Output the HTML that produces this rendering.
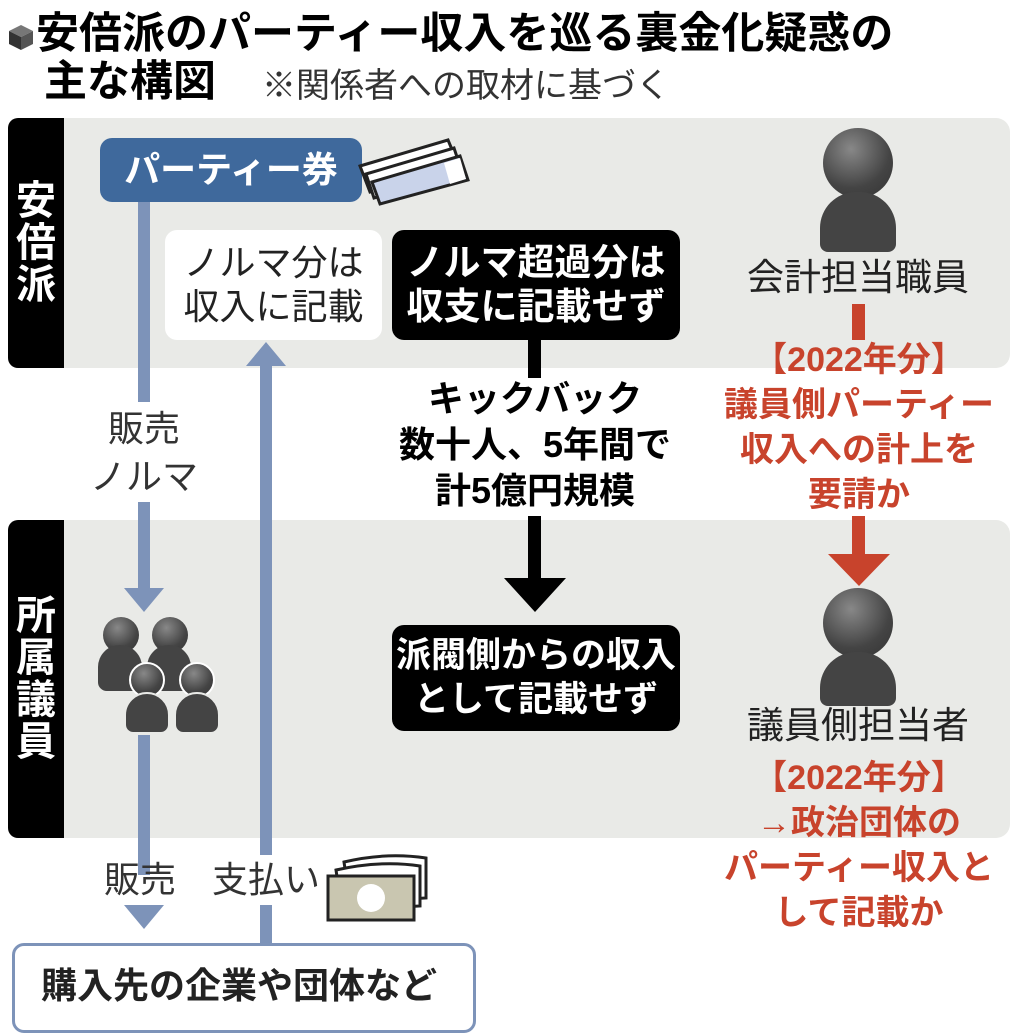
<!DOCTYPE html>
<html><head><meta charset="utf-8"><style>
body{margin:0;width:1018px;height:1024px;background:#fff;position:relative;overflow:hidden;font-family:"Liberation Sans","Noto Sans CJK JP",sans-serif;}
div{position:absolute;box-sizing:border-box;}
.panel{background:#e9eae7;border-radius:14px;}
.side{background:#000;color:#fff;font-weight:bold;font-size:40px;width:56px;border-radius:10px 0 0 10px;display:flex;flex-direction:column;align-items:center;justify-content:center;line-height:1.05;}
.t{white-space:nowrap;text-align:center;}
.blue{background:#7d93b9;}
.head{border-radius:50%;background:radial-gradient(circle at 40% 30%,#888,#444 60%,#333);}
.body{background:#444;border-radius:30px 30px 12px 12px;}
.red{color:#c8432c;font-weight:bold;}
</style></head><body>
<div style="left:6px;top:22px;width:30px;height:30px;"><svg width="30" height="30"><polygon points="15,3 27,9 15,15 3,9" fill="#777"/><polygon points="3,9 15,15 15,28 3,22" fill="#333"/><polygon points="27,9 15,15 15,28 27,22" fill="#555"/></svg></div>
<div class="t" style="left:36px;top:10px;font-size:43px;font-weight:bold;line-height:48px;text-align:left;">安倍派のパーティー収入を巡る裏金化疑惑の</div>
<div class="t" style="left:44px;top:58px;font-size:43px;font-weight:bold;line-height:48px;text-align:left;">主な構図</div>
<div class="t" style="left:262px;top:66px;font-size:34px;line-height:40px;color:#333;text-align:left;">※関係者への取材に基づく</div>

<div class="panel" style="left:8px;top:118px;width:1002px;height:250px;"></div>
<div class="side" style="left:8px;top:118px;height:250px;">安<br>倍<br>派</div>
<div class="panel" style="left:8px;top:520px;width:1002px;height:318px;"></div>
<div class="side" style="left:8px;top:520px;height:318px;">所<br>属<br>議<br>員</div>

<div style="left:100px;top:138px;width:262px;height:64px;background:#3f699c;border-radius:12px;color:#fff;font-weight:bold;font-size:36px;line-height:64px;text-align:center;">パーティー券</div>
<div style="left:356px;top:136px;width:115px;height:70px;"><svg width="115" height="70"><g stroke="#222" stroke-width="3" fill="#fff"><polygon points="4,30 92,4 102,28 14,56"/><polygon points="10,38 98,12 106,36 18,62"/><polygon points="16,46 104,20 112,44 24,68" fill="#c9d3ea"/></g><polygon points="88,27 104,22 110,43 94,48" fill="#fff"/></svg></div>

<div class="blue" style="left:138px;top:202px;width:12px;height:200px;"></div>
<div class="t" style="left:74px;top:405px;width:140px;font-size:36px;line-height:48px;color:#333;">販売<br>ノルマ</div>
<div class="blue" style="left:138px;top:502px;width:12px;height:88px;"></div>
<div style="left:124px;top:588px;width:0;height:0;border-left:20px solid transparent;border-right:20px solid transparent;border-top:24px solid #7d93b9;"></div>
<div class="blue" style="left:138px;top:735px;width:12px;height:140px;"></div>
<div style="left:124px;top:905px;width:0;height:0;border-left:20px solid transparent;border-right:20px solid transparent;border-top:24px solid #7d93b9;"></div>

<div class="blue" style="left:260px;top:365px;width:12px;height:490px;"></div>
<div class="blue" style="left:260px;top:905px;width:12px;height:40px;"></div>
<div style="left:246px;top:342px;width:0;height:0;border-left:20px solid transparent;border-right:20px solid transparent;border-bottom:24px solid #7d93b9;"></div>

<div class="t" style="left:165px;top:230px;width:217px;height:110px;background:#fff;border-radius:12px;font-size:36px;line-height:44px;padding-top:11px;color:#222;">ノルマ分は<br>収入に記載</div>
<div style="left:392px;top:230px;width:288px;height:110px;background:#000;border-radius:12px;color:#fff;font-weight:bold;font-size:37px;line-height:44px;padding-top:11px;text-align:center;white-space:nowrap;">ノルマ超過分は<br>収支に記載せず</div>

<div style="left:528px;top:340px;width:13px;height:38px;background:#000;"></div>
<div class="t" style="left:375px;top:376px;width:320px;font-size:36px;font-weight:bold;line-height:46px;">キックバック<br>数十人、5年間で<br>計5億円規模</div>
<div style="left:528px;top:516px;width:13px;height:64px;background:#000;"></div>
<div style="left:504px;top:578px;width:0;height:0;border-left:31px solid transparent;border-right:31px solid transparent;border-top:34px solid #000;"></div>
<div style="left:392px;top:625px;width:288px;height:106px;background:#000;border-radius:12px;color:#fff;font-weight:bold;font-size:35px;line-height:44px;padding-top:9px;text-align:center;white-space:nowrap;">派閥側からの収入<br>として記載せず</div>

<div class="head" style="left:103px;top:617px;width:36px;height:36px;"></div>
<div class="body" style="left:98px;top:645px;width:44px;height:46px;"></div>
<div class="head" style="left:152px;top:617px;width:36px;height:36px;"></div>
<div class="body" style="left:147px;top:645px;width:44px;height:46px;"></div>
<div class="head" style="left:129px;top:662px;width:36px;height:36px;border:2px solid #fff;"></div>
<div class="body" style="left:124px;top:692px;width:46px;height:42px;border:2px solid #e9eae7;"></div>
<div class="head" style="left:179px;top:662px;width:36px;height:36px;border:2px solid #fff;"></div>
<div class="body" style="left:174px;top:692px;width:46px;height:42px;border:2px solid #e9eae7;"></div>

<div class="t" style="left:104px;top:858px;font-size:36px;line-height:44px;color:#333;text-align:left;">販売　支払い</div>
<div style="left:326px;top:850px;width:105px;height:72px;"><svg width="105" height="72"><g stroke="#222" stroke-width="3"><path d="M18,12 Q60,2 100,8 L100,48 L24,52 Z" fill="#fff"/><path d="M10,20 Q55,10 94,16 L94,56 L16,60 Z" fill="#fff"/><rect x="2" y="26" width="86" height="44" fill="#c9c6b0"/></g><circle cx="45" cy="48" r="14" fill="#fff"/></svg></div>
<div style="left:12px;top:943px;width:464px;height:90px;border:3px solid #7d93b9;border-radius:12px;background:#fff;font-size:36px;font-weight:bold;line-height:80px;padding-left:26px;color:#222;white-space:nowrap;">購入先の企業や団体など</div>

<div class="head" style="left:823px;top:128px;width:70px;height:70px;"></div>
<div class="body" style="left:820px;top:192px;width:76px;height:60px;border-radius:36px 36px 8px 8px;"></div>
<div class="t" style="left:730px;top:256px;width:256px;font-size:37px;line-height:44px;color:#222;">会計担当職員</div>
<div style="left:852px;top:304px;width:13px;height:36px;background:#c8432c;"></div>
<div class="t red" style="left:708px;top:338px;width:302px;font-size:34px;line-height:45px;">【2022年分】<br>議員側パーティー<br>収入への計上を<br>要請か</div>
<div style="left:852px;top:516px;width:13px;height:40px;background:#c8432c;"></div>
<div style="left:828px;top:554px;width:0;height:0;border-left:31px solid transparent;border-right:31px solid transparent;border-top:32px solid #c8432c;"></div>
<div class="head" style="left:823px;top:588px;width:70px;height:70px;"></div>
<div class="body" style="left:820px;top:652px;width:76px;height:54px;border-radius:36px 36px 8px 8px;"></div>
<div class="t" style="left:730px;top:704px;width:256px;font-size:37px;line-height:44px;color:#222;">議員側担当者</div>
<div class="t red" style="left:708px;top:756px;width:302px;font-size:34px;line-height:45px;">【2022年分】<br>→政治団体の<br>パーティー収入と<br>して記載か</div>
</body></html>
